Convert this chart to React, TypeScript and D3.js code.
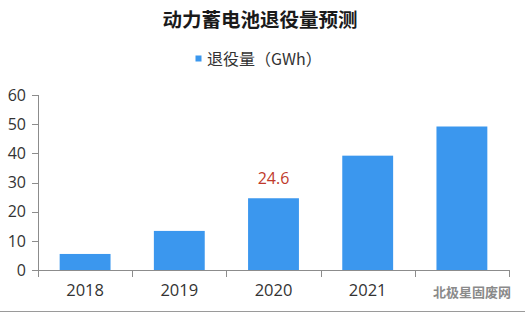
import React from "react";
import * as d3 from "d3";

const categories = ["2018", "2019", "2020", "2021", "2022"];
const values = [5.5, 13.4, 24.6, 39.2, 49.2];
const xLabels = ["2018", "2019", "2020", "2021", ""];
const yTicks = [0, 10, 20, 30, 40, 50, 60];
const title = "动力蓄电池退役量预测";
const seriesName = "退役量（GWh）";
const labelled = ["2020"];
const watermark = "北极星固废网";

const W = 525;
const H = 314;
const FONT = "'Open Sans', 'Noto Sans CJK SC', sans-serif";
const CJK = "'Noto Sans CJK SC', sans-serif";

export default function App() {
  const x = d3
    .scaleBand<string>()
    .domain(categories)
    .range([38, 509])
    .paddingInner(0.46)
    .paddingOuter(0.23);
  const y = d3.scaleLinear().domain([0, 60]).range([270, 95]);
  const step = x.step();
  const x0 = x.range()[0];
  const bounds = d3.range(categories.length + 1).map((i) => x0 + i * step);
  const barColor = "#3b97ee";
  const axisColor = "#8c8c8c";

  return (
    <svg
      width={W}
      height={H}
      style={{ position: "absolute", left: 0, top: 0, background: "#fff" }}
      fontFamily={FONT}
    >
      <rect x={0} y={0} width={W} height={H} fill="#fff" />
      <text x={260} y={27} textAnchor="middle" fontSize={19.5} fontWeight="bold" fill="#1a1a1a" fontFamily={CJK}>
        {title}
      </text>
      <rect x={195.5} y={55.5} width={6} height={6} fill={barColor} />
      <text x={207} y={64.5} fontSize={16} fill="#333" fontFamily={CJK}>
        {seriesName}
      </text>

      {categories.map((c, i) => (
        <rect
          key={c}
          x={x(c)}
          y={y(values[i])}
          width={x.bandwidth()}
          height={y(0) - y(values[i])}
          fill={barColor}
        />
      ))}

      {categories.map((c, i) =>
        labelled.includes(c) ? (
          <text
            key={"l" + c}
            x={(x(c) as number) + x.bandwidth() / 2}
            y={y(values[i]) - 14}
            textAnchor="middle"
            fontSize={16}
            fill="#c0392b"
          >
            {values[i]}
          </text>
        ) : null
      )}

      {/* y axis */}
      <line x1={38.5} x2={38.5} y1={y(60)} y2={y(0)} stroke={axisColor} />
      {yTicks.map((t) => (
        <g key={t}>
          <line x1={32} x2={38.5} y1={Math.round(y(t)) + 0.5} y2={Math.round(y(t)) + 0.5} stroke={axisColor} />
          <text x={26} y={y(t)} dy="0.36em" textAnchor="end" fontSize={16} fill="#333">
            {t}
          </text>
        </g>
      ))}

      {/* x axis */}
      <line x1={38} x2={bounds[bounds.length - 1]} y1={270.5} y2={270.5} stroke={axisColor} />
      {bounds.map((b, i) => (
        <line key={i} x1={Math.round(b) + 0.5} x2={Math.round(b) + 0.5} y1={270} y2={277} stroke={axisColor} />
      ))}
      {categories.map((c, i) => (
        <text
          key={"x" + c}
          x={(x(c) as number) + x.bandwidth() / 2}
          y={296}
          textAnchor="middle"
          fontSize={16.5}
          fill="#333"
        >
          {xLabels[i]}
        </text>
      ))}

      {/* watermark */}
      <text x={433} y={297} fontSize={13} fontWeight="bold" fill="#8a8a8a" fontFamily={CJK}>
        {watermark}
      </text>
      <line x1={0} x2={W} y1={311.5} y2={311.5} stroke="#9a9a9a" />
    </svg>
  );
}
